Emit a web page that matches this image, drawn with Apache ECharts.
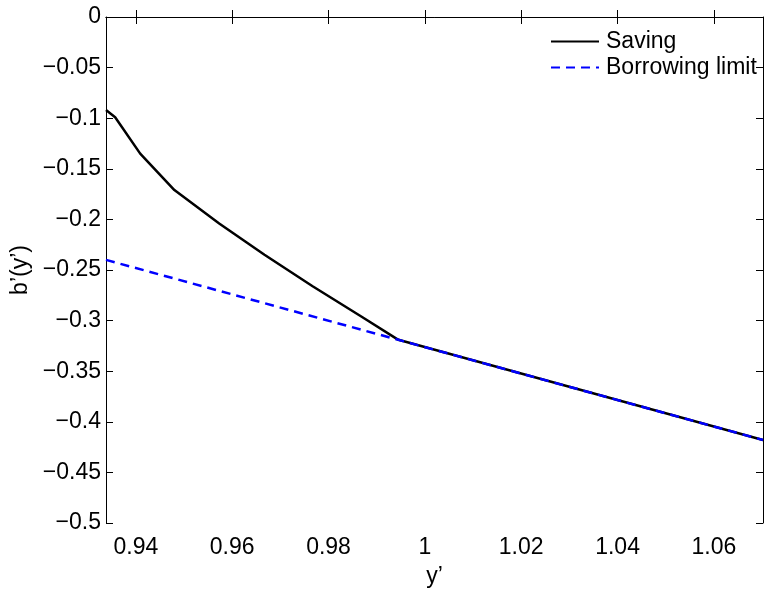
<!DOCTYPE html>
<html>
<head>
<meta charset="utf-8">
<script src="https://cdn.jsdelivr.net/npm/echarts@6/dist/echarts.min.js"></script>
<style>
html,body{margin:0;padding:0;background:#fff;}
#chart{width:766px;height:593px;}
</style>
</head>
<body>
<div id="chart"></div>
<script>
// ---- data ----
const savingX = [0.9338, 0.9357, 0.9409, 0.9480, 0.9573, 0.9667, 0.9767, 0.9868, 0.9945, 1.0702];
const savingY = [-0.092, -0.099, -0.135, -0.171, -0.204, -0.235, -0.266, -0.296, -0.319, -0.418];
const borrowX = [0.9338, 0.9945, 1.0702];
const borrowY = [-0.240, -0.319, -0.418];
const xTicks = [0.94, 0.96, 0.98, 1.00, 1.02, 1.04, 1.06];
const xTickLabels = ['0.94', '0.96', '0.98', '1', '1.02', '1.04', '1.06'];
const yTickLabels = ['0', '\u22120.05', '\u22120.1', '\u22120.15', '\u22120.2', '\u22120.25', '\u22120.3', '\u22120.35', '\u22120.4', '\u22120.45', '\u22120.5'];
const xRange = [0.9338, 1.0702];
const yRange = [-0.5, 0];
const seriesNames = ['Saving', 'Borrowing limit'];
const xName = 'y\u2019';
const yName = 'b\u2019(y\u2019)';

const FONT = 'Liberation Sans, Arial, Helvetica, sans-serif';
const FS = 23;

function zip(a, b) { return a.map((v, i) => [v, b[i]]); }
function xFmt(v) {
  const i = xTicks.findIndex(t => Math.abs(t - v) < 1e-6);
  return i >= 0 ? xTickLabels[i] : '';
}
function yFmt(v) {
  const i = Math.round(-v / 0.05);
  return yTickLabels[i] !== undefined ? yTickLabels[i] : '';
}

const chart = echarts.init(document.getElementById('chart'), null, {renderer: 'canvas'});
const axLine = {show: true, lineStyle: {color: '#000', width: 1}};
const tick = {show: true, inside: true, length: 7, lineStyle: {color: '#000', width: 1}};

chart.setOption({
  animation: false,
  backgroundColor: '#fff',
  textStyle: {fontFamily: FONT},
  grid: {left: 106, right: 3, top: 17, bottom: 68, containLabel: false},
  legend: {
    orient: 'vertical',
    left: 550, top: 30,
    padding: 0,
    itemWidth: 48, itemHeight: 14, itemGap: 3,
    itemStyle: {opacity: 0},
    textStyle: {fontSize: FS, color: '#000', fontFamily: FONT, padding: [0, 0, 0, 2]},
    data: seriesNames
  },
  xAxis: [{
    type: 'value', min: xRange[0], max: xRange[1],
    name: xName, nameLocation: 'middle', nameGap: 42,
    nameTextStyle: {fontSize: FS, color: '#000', fontFamily: FONT},
    axisLine: axLine,
    axisTick: Object.assign({customValues: xTicks}, tick),
    axisLabel: {customValues: xTicks, formatter: xFmt, fontSize: FS, color: '#000', margin: 13, fontFamily: FONT},
    splitLine: {show: false}
  }, {
    type: 'value', position: 'top', min: xRange[0], max: xRange[1],
    axisLine: axLine,
    axisTick: Object.assign({customValues: xTicks}, tick),
    axisLabel: {show: false},
    splitLine: {show: false}
  }],
  yAxis: [{
    type: 'value', min: yRange[0], max: yRange[1], interval: 0.05,
    name: yName, nameLocation: 'middle', nameGap: 72,
    nameTextStyle: {fontSize: FS, color: '#000', fontFamily: FONT},
    axisLine: axLine, axisTick: tick,
    axisLabel: {formatter: yFmt, fontSize: FS, color: '#000', margin: 5, fontFamily: FONT},
    splitLine: {show: false}
  }, {
    type: 'value', position: 'right', min: yRange[0], max: yRange[1], interval: 0.05,
    axisLine: axLine, axisTick: tick,
    axisLabel: {show: false},
    splitLine: {show: false}
  }],
  series: [{
    name: seriesNames[0], type: 'line', symbol: 'none', showSymbol: false,
    data: zip(savingX, savingY),
    lineStyle: {color: '#000', width: 2.5, type: 'solid'},
    itemStyle: {color: '#000'}, z: 2
  }, {
    name: seriesNames[1], type: 'line', symbol: 'none', showSymbol: false,
    data: zip(borrowX, borrowY),
    lineStyle: {color: '#0000ff', width: 2.5, type: [9, 6]},
    itemStyle: {color: '#0000ff'}, z: 3
  }]
});
</script>
</body>
</html>
